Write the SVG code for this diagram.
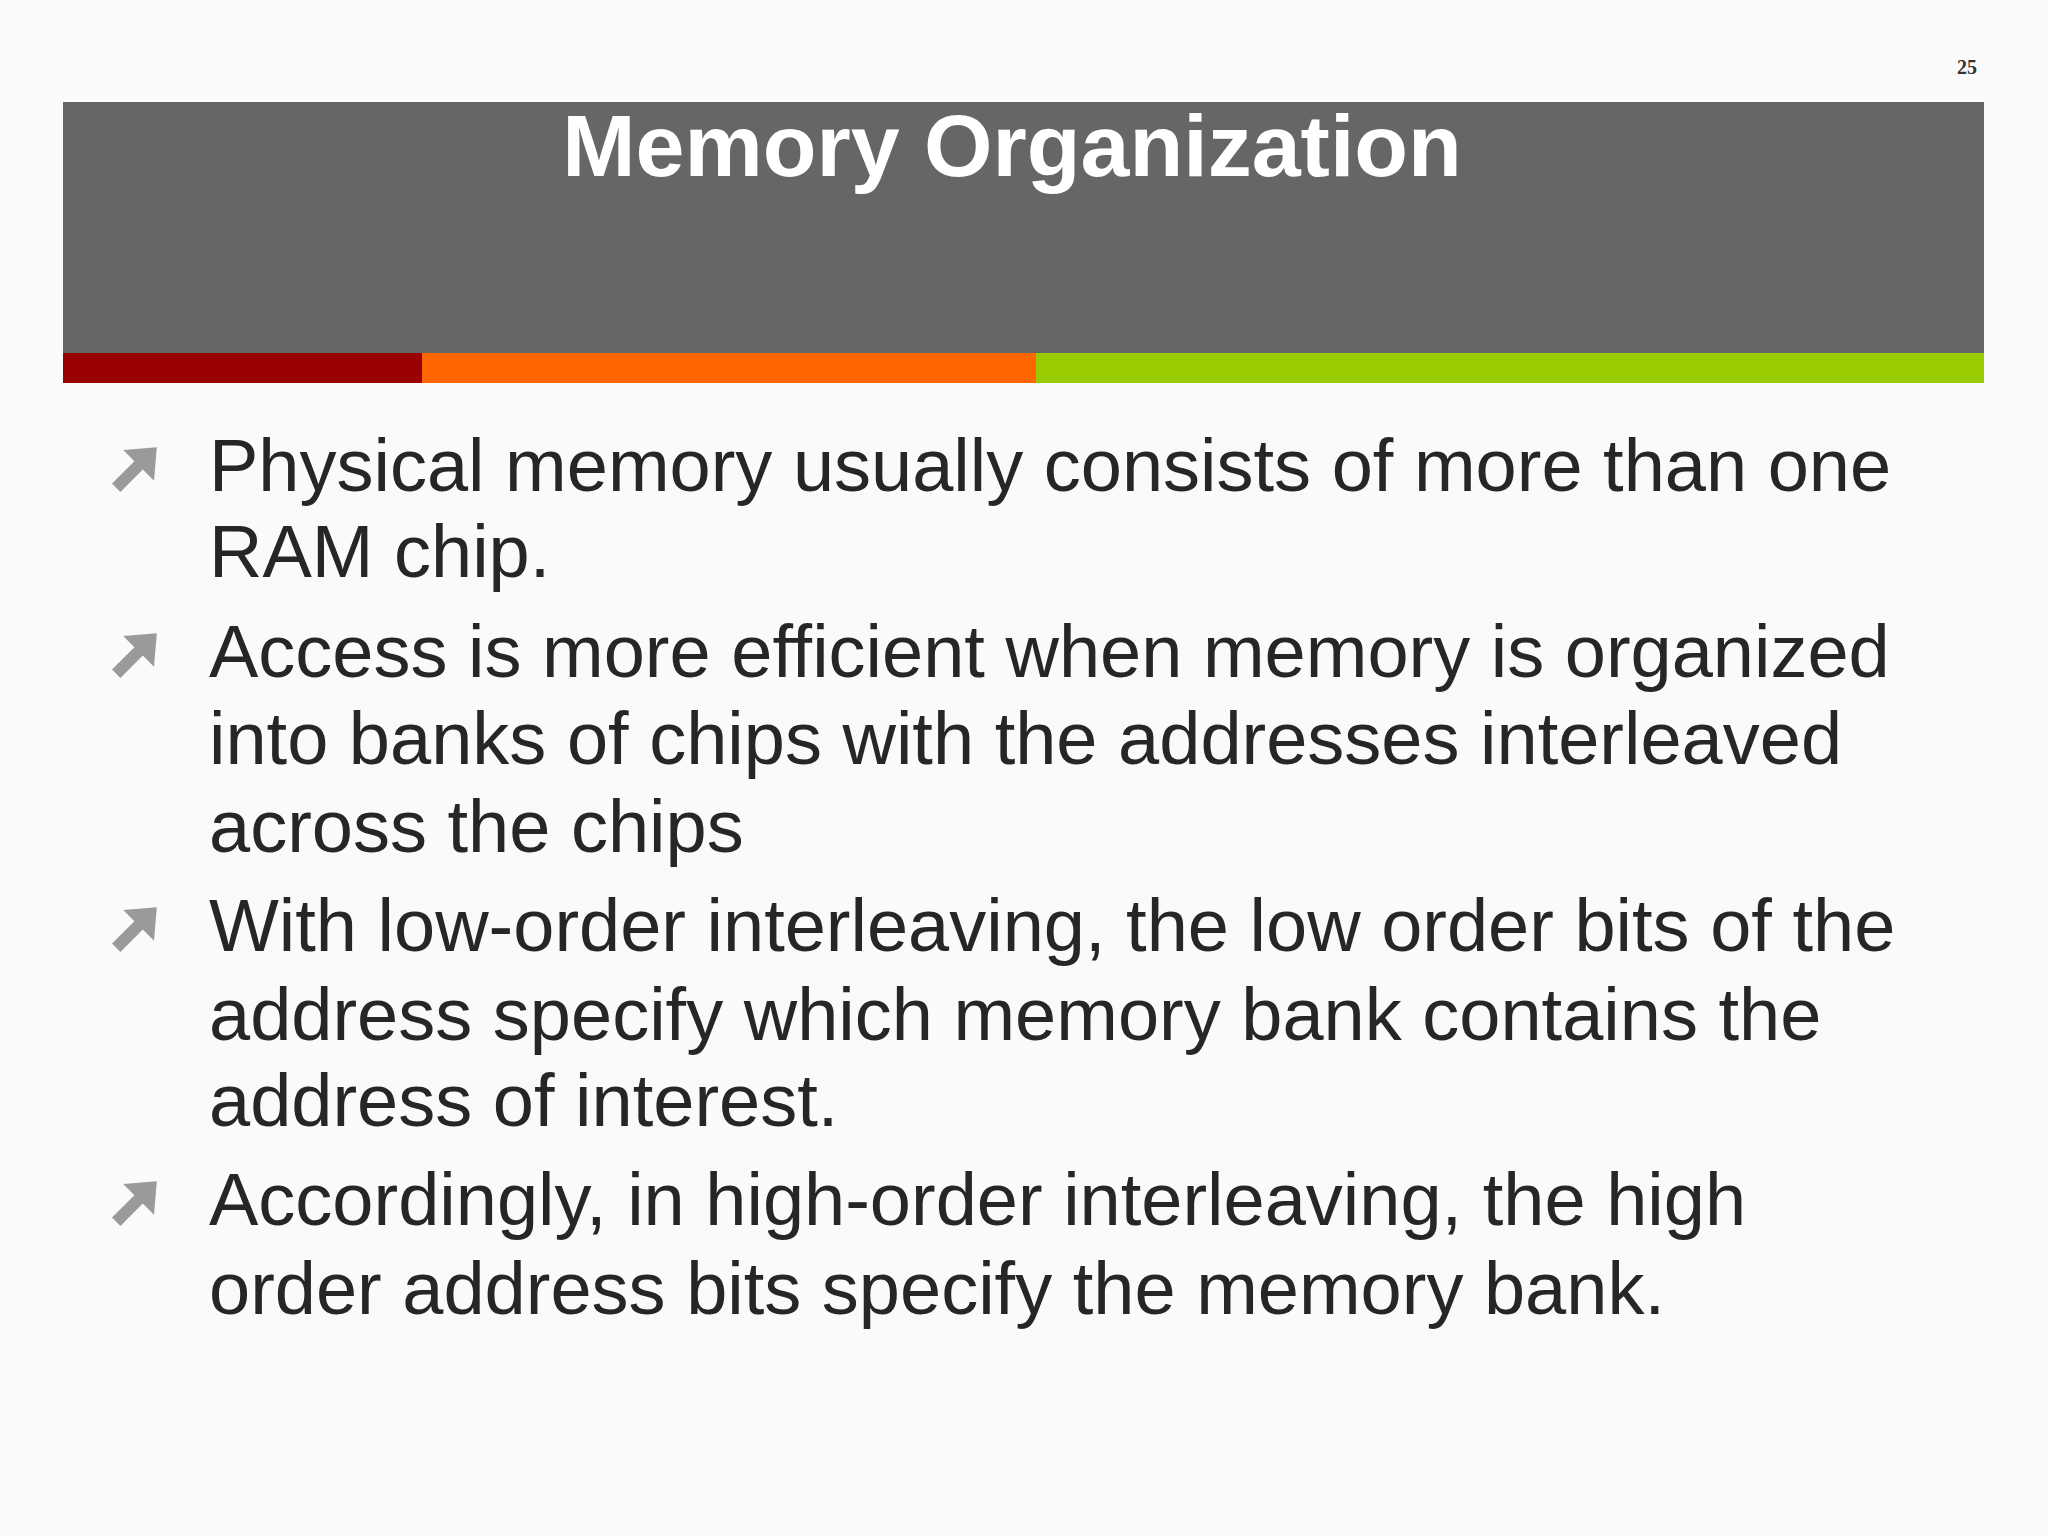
<svg xmlns="http://www.w3.org/2000/svg" width="2048" height="1536" viewBox="0 0 2048 1536">
<style>
.b{font-family:"Liberation Sans",Arial,sans-serif;font-size:74px;fill:#262626}
</style>
<defs>
<path id="arr" d="M0,-6 L16,-22 L8,-30 L32,-32 L30,-8 L22,-16 L6,0 Z" fill="#9a9a9a"/>
</defs>
<rect width="2048" height="1536" fill="#fafafa"/>
<text x="1967" y="74" font-family="Liberation Serif,serif" font-weight="bold" font-size="20" text-anchor="middle" fill="#333">25</text>
<g id="header">
<rect x="63" y="102" width="1921" height="251" fill="#666"/>
<rect x="63" y="353" width="359" height="30" fill="#990000"/>
<rect x="422" y="353" width="614" height="30" fill="#ff6600"/>
<rect x="1036" y="353" width="948" height="30" fill="#99cc00"/>
<text x="1012" y="176" font-family="Liberation Sans,Arial,sans-serif" font-weight="bold" font-size="88" text-anchor="middle" fill="#fff">Memory Organization</text>
</g>
<g id="bullets">
<use href="#arr" transform="translate(112,492) scale(1.4)"/>
<use href="#arr" transform="translate(112,678) scale(1.4)"/>
<use href="#arr" transform="translate(112,952) scale(1.4)"/>
<use href="#arr" transform="translate(112,1226) scale(1.4)"/>
<text class="b" x="209" y="491">Physical memory usually consists of more than one</text>
<text class="b" x="209" y="577">RAM chip.</text>
<text class="b" x="209" y="677">Access is more efficient when memory is organized</text>
<text class="b" x="209" y="764">into banks of chips with the addresses interleaved</text>
<text class="b" x="209" y="852">across the chips</text>
<text class="b" x="209" y="951">With low-order interleaving, the low order bits of the</text>
<text class="b" x="209" y="1040">address specify which memory bank contains the</text>
<text class="b" x="209" y="1126">address of interest.</text>
<text class="b" x="209" y="1225">Accordingly, in high-order interleaving, the high</text>
<text class="b" x="209" y="1314">order address bits specify the memory bank.</text>
</g>
</svg>
